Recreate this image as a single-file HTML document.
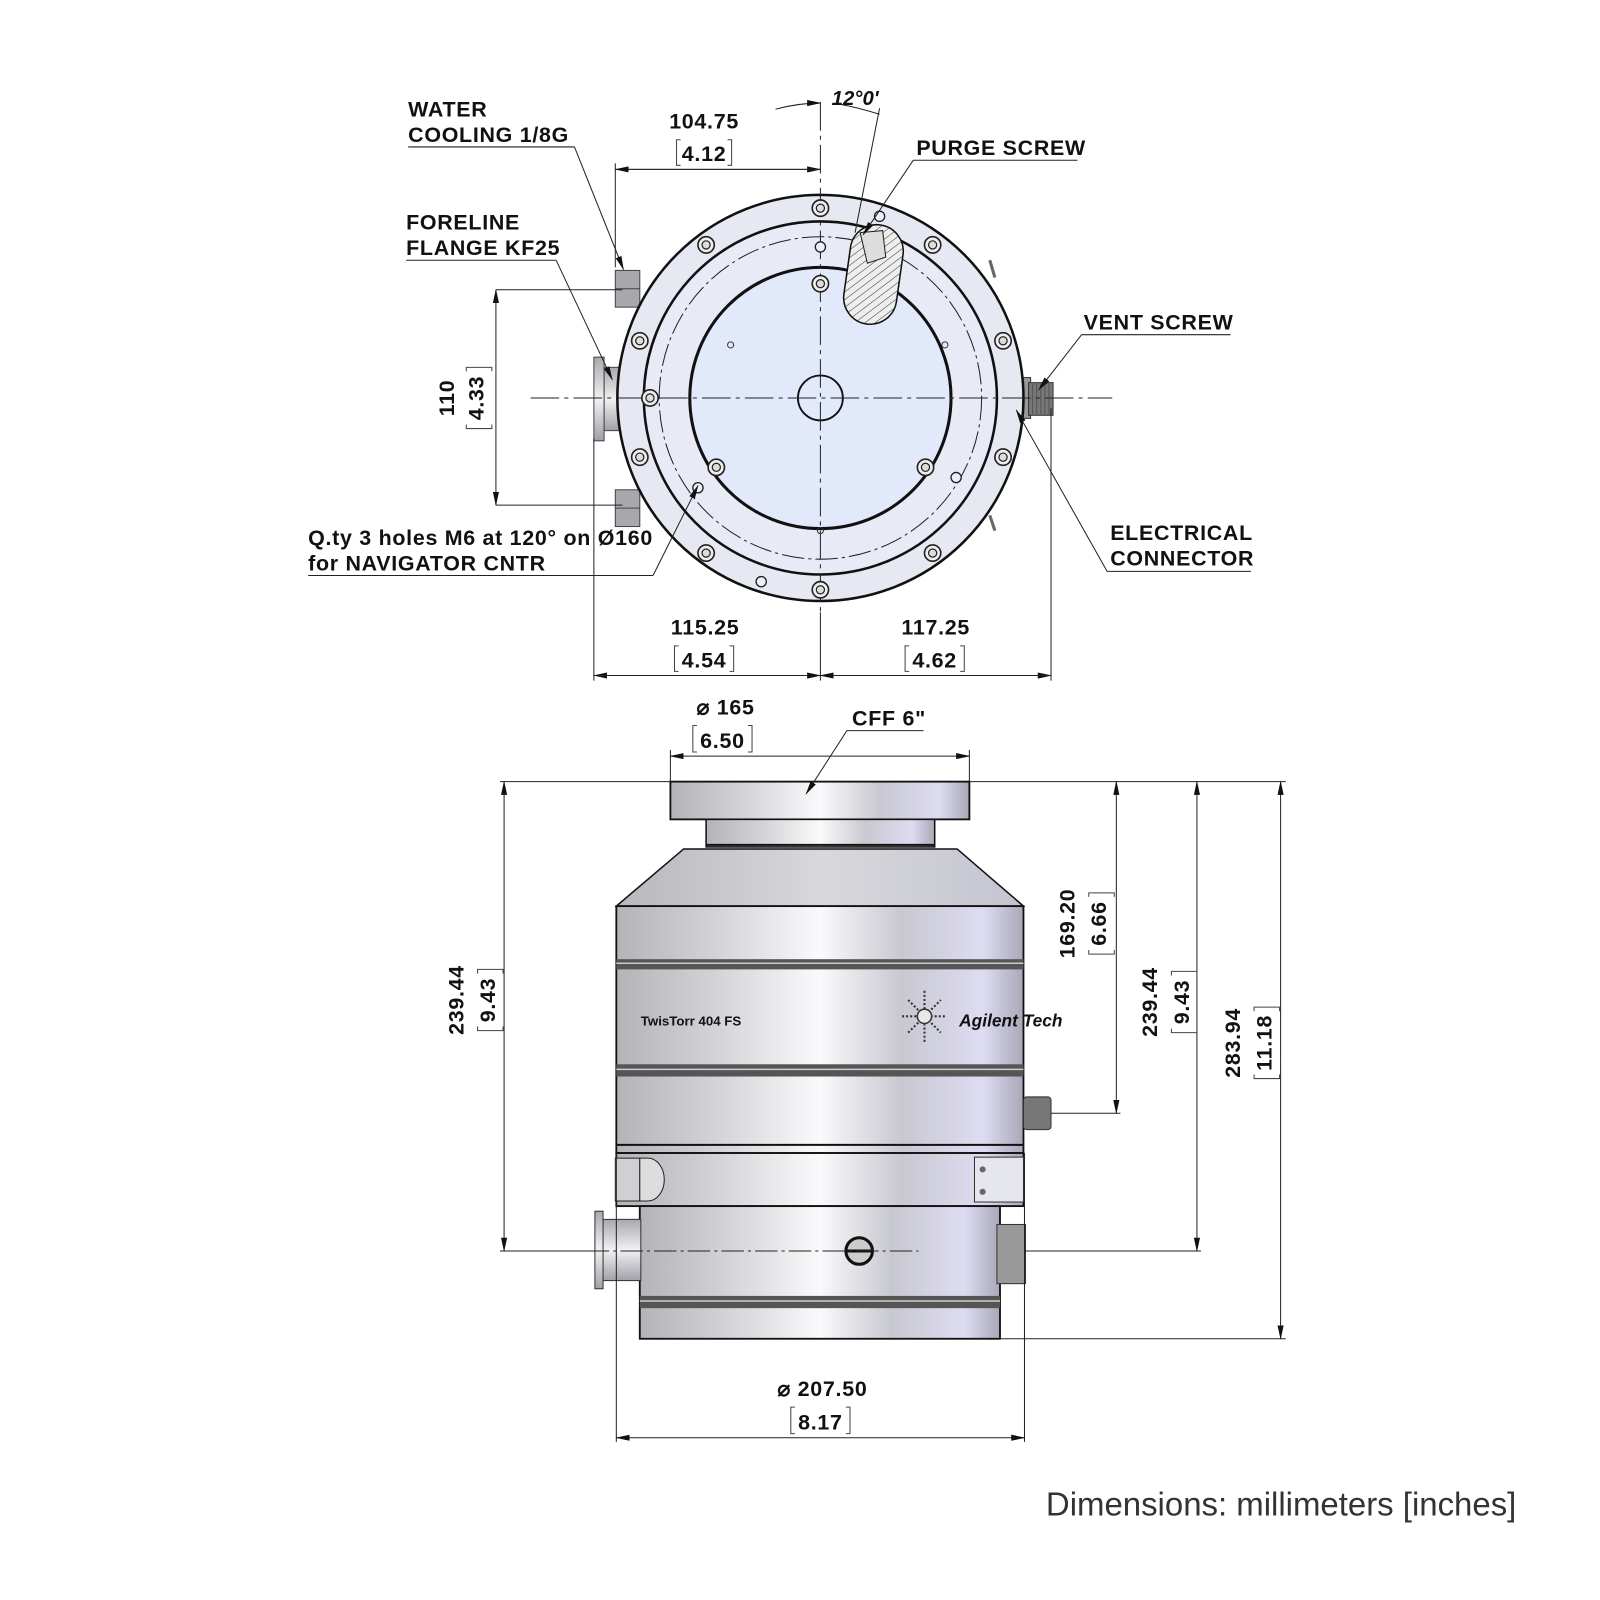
<!DOCTYPE html>
<html><head><meta charset="utf-8"><style>
html,body{margin:0;padding:0;background:#fff;width:1600px;height:1600px;overflow:hidden}
svg{display:block}
text{font-family:"Liberation Sans",sans-serif;fill:#111}
.b{font-weight:bold;font-size:21px;letter-spacing:0.7px}
.d{font-weight:bold;font-size:21px;letter-spacing:0.7px;text-anchor:middle}
</style></head><body>
<svg width="1600" height="1600" viewBox="0 0 1600 1600" xmlns="http://www.w3.org/2000/svg">
<defs>
<linearGradient id="m" x1="0" x2="1" y1="0" y2="0">
<stop offset="0" stop-color="#b4b4b8"/><stop offset="0.25" stop-color="#d4d4d8"/>
<stop offset="0.5" stop-color="#fafafc"/><stop offset="0.7" stop-color="#c8c8d0"/>
<stop offset="0.9" stop-color="#dedcf2"/><stop offset="1" stop-color="#a8a8b8"/></linearGradient>
<linearGradient id="mv" x1="0" x2="0" y1="0" y2="1">
<stop offset="0" stop-color="#a8a8ae"/><stop offset="0.5" stop-color="#f2f2f4"/><stop offset="1" stop-color="#a0a0a8"/></linearGradient>
<linearGradient id="cone" x1="0" x2="1"><stop offset="0" stop-color="#b8b8bc"/><stop offset="0.5" stop-color="#d8d8dc"/><stop offset="1" stop-color="#c4c4d0"/></linearGradient>
<pattern id="h" width="6" height="6" patternUnits="userSpaceOnUse" patternTransform="rotate(45)">
<rect width="6" height="6" fill="#eee"/><line x1="0" y1="0" x2="0" y2="6" stroke="#333" stroke-width="1"/></pattern>
<marker id="a" markerWidth="14" markerHeight="8" refX="13" refY="4" orient="auto" markerUnits="userSpaceOnUse">
<path d="M0,1 L14,4 L0,7 Z" fill="#111"/></marker>
<g id="bolt"><circle r="8" fill="#eee" stroke="#222" stroke-width="1.6"/><circle r="4" fill="#ddd" stroke="#222" stroke-width="1.2"/></g>
<g id="hole"><circle r="5" fill="#eef" stroke="#222" stroke-width="1.3"/></g>
</defs>
<g transform="scale(1.0204)">
<!-- ============ TOP VIEW ============ -->
<rect x="603" y="265" width="24" height="36" fill="#a8a8ac" stroke="#444"/>
<line x1="603" y1="283" x2="627" y2="283" stroke="#444"/>
<rect x="603" y="480" width="24" height="36" fill="#a8a8ac" stroke="#444"/>
<line x1="603" y1="498" x2="627" y2="498" stroke="#444"/>
<rect x="592" y="360" width="40" height="62" fill="url(#mv)" stroke="#444"/>
<rect x="582" y="350" width="10" height="82" fill="url(#mv)" stroke="#444"/>
<rect x="978" y="370" width="32" height="40" fill="#999" stroke="#333"/>
<rect x="1008" y="375" width="24" height="32" fill="#777" stroke="#333"/>
<path d="M1012 376 V406 M1016 376 V406 M1020 376 V406 M1024 376 V406 M1028 376 V406" stroke="#555"/>
<circle cx="804" cy="390" r="199" fill="#e6e8f2" stroke="#111" stroke-width="2.5"/>
<circle cx="804" cy="390" r="173" fill="#e8ebf6" stroke="#111" stroke-width="2.5"/>
<circle cx="804" cy="390" r="158" fill="none" stroke="#222" stroke-width="1" stroke-dasharray="22,4,3,4"/>
<circle cx="804" cy="390" r="128" fill="#e2e9fa" stroke="#111" stroke-width="3"/>
<circle cx="804" cy="390" r="22" fill="none" stroke="#111" stroke-width="1.8"/>
<line x1="520" y1="390" x2="1090" y2="390" stroke="#222" stroke-width="1" stroke-dasharray="28,5,4,5"/>
<line x1="804" y1="100" x2="804" y2="600" stroke="#222" stroke-width="1" stroke-dasharray="28,5,4,5"/>
<use href="#bolt" x="804" y="204"/><use href="#bolt" x="692" y="240"/><use href="#bolt" x="914" y="240"/>
<use href="#bolt" x="627" y="334"/><use href="#bolt" x="983" y="334"/><use href="#bolt" x="637" y="390"/>
<use href="#bolt" x="627" y="448"/><use href="#bolt" x="983" y="448"/><use href="#bolt" x="692" y="542"/>
<use href="#bolt" x="914" y="542"/><use href="#bolt" x="804" y="578"/>
<use href="#bolt" x="804" y="278"/><use href="#bolt" x="702" y="458"/><use href="#bolt" x="907" y="458"/>
<use href="#hole" x="862" y="212"/><use href="#hole" x="746" y="570"/><use href="#hole" x="937" y="468"/>
<use href="#hole" x="684" y="478"/><use href="#hole" x="804" y="242"/>
<circle cx="716" cy="338" r="3" fill="none" stroke="#333"/><circle cx="926" cy="338" r="3" fill="none" stroke="#333"/>
<circle cx="804" cy="520" r="3" fill="none" stroke="#333"/>
<rect x="830" y="220" width="52" height="98" rx="26" fill="url(#h)" stroke="#111" stroke-width="1.5" transform="rotate(8 856 269)" />
<path d="M843 228 L865 226 L868 252 L850 258 Z" fill="#ddd" stroke="#222"/>
<path d="M970 255 L975 272 M970 505 L975 520" stroke="#666" stroke-width="3"/>

<line x1="603" y1="160" x2="603" y2="262" stroke="#222"/>
<line x1="603" y1="166" x2="804" y2="166" stroke="#222" marker-end="url(#a)"/>
<line x1="804" y1="166" x2="603" y2="166" stroke="#222" marker-end="url(#a)"/>
<text class="d" x="690" y="126">104.75</text>
<path d="M667 137 H663 V162 H667 M713 137 H717 V162 H713" fill="none" stroke="#444"/>
<text class="d" x="690" y="158">4.12</text>
<path d="M760 107 Q782 101 804 101" fill="none" stroke="#222" marker-end="url(#a)"/>
<path d="M862 112 Q840 105 822 102" fill="none" stroke="#222"/>
<line x1="862" y1="106" x2="838" y2="228" stroke="#222"/>
<text x="815" y="103" style="font-weight:bold;font-style:italic;font-size:20px">12°0'</text>

<line x1="486" y1="284" x2="610" y2="284" stroke="#222"/>
<line x1="486" y1="495" x2="610" y2="495" stroke="#222"/>
<line x1="486" y1="390" x2="486" y2="284" stroke="#222" marker-end="url(#a)"/>
<line x1="486" y1="390" x2="486" y2="495" stroke="#222" marker-end="url(#a)"/>
<text class="d" transform="translate(445 390) rotate(-90)">110</text>
<g transform="translate(474 390) rotate(-90)"><path d="M-26 -17 H-30 V8 H-26 M26 -17 H30 V8 H26" fill="none" stroke="#444"/><text class="d" x="0" y="0">4.33</text></g>

<line x1="582" y1="430" x2="582" y2="667" stroke="#222"/>
<line x1="1030" y1="400" x2="1030" y2="667" stroke="#222"/>
<line x1="804" y1="600" x2="804" y2="667" stroke="#222"/>
<line x1="804" y1="662" x2="582" y2="662" stroke="#222" marker-end="url(#a)"/>
<line x1="582" y1="662" x2="804" y2="662" stroke="#222" marker-end="url(#a)"/>
<line x1="804" y1="662" x2="1030" y2="662" stroke="#222" marker-end="url(#a)"/>
<line x1="1030" y1="662" x2="804" y2="662" stroke="#222" marker-end="url(#a)"/>
<text class="d" x="691" y="622">115.25</text>
<path d="M665 633 H661 V658 H665 M715 633 H719 V658 H715" fill="none" stroke="#444"/>
<text class="d" x="690" y="654">4.54</text>
<text class="d" x="917" y="622">117.25</text>
<path d="M891 633 H887 V658 H891 M941 633 H945 V658 H941" fill="none" stroke="#444"/>
<text class="d" x="916" y="654">4.62</text>

<text class="b" x="400" y="114">WATER</text>
<text class="b" x="400" y="139">COOLING 1/8G</text>
<line x1="400" y1="144" x2="563" y2="144" stroke="#222"/>
<line x1="563" y1="144" x2="611" y2="264" stroke="#222" marker-end="url(#a)"/>
<text class="b" x="398" y="225">FORELINE</text>
<text class="b" x="398" y="250">FLANGE KF25</text>
<line x1="398" y1="255" x2="545" y2="255" stroke="#222"/>
<line x1="545" y1="255" x2="600" y2="372" stroke="#222" marker-end="url(#a)"/>
<text class="b" x="898" y="152">PURGE SCREW</text>
<line x1="895" y1="157" x2="1056" y2="157" stroke="#222"/>
<line x1="895" y1="157" x2="846" y2="230" stroke="#222" marker-end="url(#a)"/>
<text class="b" x="1062" y="323">VENT SCREW</text>
<line x1="1060" y1="328" x2="1206" y2="328" stroke="#222"/>
<line x1="1060" y1="328" x2="1018" y2="382" stroke="#222" marker-end="url(#a)"/>
<text class="b" x="1088" y="529">ELECTRICAL</text>
<text class="b" x="1088" y="554">CONNECTOR</text>
<line x1="1085" y1="560" x2="1226" y2="560" stroke="#222"/>
<line x1="1085" y1="560" x2="996" y2="402" stroke="#222" marker-end="url(#a)"/>
<text class="b" x="302" y="534">Q.ty 3 holes M6 at 120° on Ø160</text>
<text class="b" x="302" y="559">for NAVIGATOR CNTR</text>
<line x1="302" y1="564" x2="640" y2="564" stroke="#222"/>
<line x1="640" y1="564" x2="684" y2="476" stroke="#222" marker-end="url(#a)"/>

<!-- ============ SIDE VIEW ============ -->
<rect x="657" y="766" width="293" height="37" fill="url(#m)" stroke="#111" stroke-width="1.8"/>
<rect x="692" y="803" width="224" height="27" fill="url(#m)" stroke="#111" stroke-width="1.5"/>
<line x1="692" y1="828" x2="916" y2="828" stroke="#111" stroke-width="2"/>
<path d="M670 832 L938 832 L1003 888 L604 888 Z" fill="url(#cone)" stroke="#111" stroke-width="1.5"/>
<rect x="604" y="888" width="399" height="242" fill="url(#m)" stroke="#111" stroke-width="1.8"/>
<rect x="604" y="940" width="399" height="10" fill="#555"/>
<line x1="604" y1="944" x2="1003" y2="944" stroke="#ccc" stroke-width="1.5"/>
<rect x="604" y="1043" width="399" height="12" fill="#555"/>
<line x1="604" y1="1048" x2="1003" y2="1048" stroke="#ccc" stroke-width="1.5"/>
<line x1="604" y1="1122" x2="1003" y2="1122" stroke="#111" stroke-width="2"/>
<text x="628" y="1005" style="font-weight:bold;font-size:13px">TwisTorr 404 FS</text>
<text x="940" y="1006" style="font-weight:bold;font-style:italic;font-size:17px">Agilent Tech</text>
<g transform="translate(906 996)" stroke="#333" stroke-width="2" stroke-dasharray="2,2">
<line x1="-22" y1="0" x2="22" y2="0"/><line x1="0" y1="-25" x2="0" y2="25"/>
<line x1="-16" y1="-16" x2="16" y2="16"/><line x1="-16" y1="16" x2="16" y2="-16"/></g>
<circle cx="906" cy="996" r="7" fill="#e8e8ec" stroke="#333" stroke-width="1.5"/>
<rect x="604" y="1130" width="399" height="52" fill="url(#m)" stroke="#111" stroke-width="1.8"/>
<rect x="603" y="1135" width="24" height="42" fill="#d0d0d4" stroke="#222"/>
<path d="M627 1135 H635 A16 21 0 0 1 635 1177 H627 Z" fill="#ddd" stroke="#222"/>
<rect x="955" y="1134" width="48" height="44" fill="#e6e6ee" stroke="#333"/>
<circle cx="963" cy="1146" r="3" fill="#666"/><circle cx="963" cy="1168" r="3" fill="#666"/>
<rect x="627" y="1182" width="353" height="130" fill="url(#m)" stroke="#111" stroke-width="1.8"/>
<rect x="627" y="1270" width="353" height="12" fill="#555"/>
<line x1="627" y1="1275" x2="980" y2="1275" stroke="#ccc" stroke-width="1.5"/>
<rect x="590" y="1195" width="38" height="60" fill="url(#mv)" stroke="#333"/>
<rect x="583" y="1187" width="8" height="76" fill="url(#mv)" stroke="#333"/>
<rect x="977" y="1200" width="28" height="58" fill="#999" stroke="#333"/>
<rect x="1003" y="1075" width="27" height="32" rx="3" fill="#777" stroke="#333"/>
<circle cx="842" cy="1226" r="13" fill="#ccc" stroke="#111" stroke-width="3"/>
<line x1="830" y1="1226" x2="854" y2="1226" stroke="#111" stroke-width="3"/>
<line x1="575" y1="1226" x2="900" y2="1226" stroke="#222" stroke-dasharray="22,4,3,4"/>
<line x1="1005" y1="1226" x2="1177" y2="1226" stroke="#222"/>
<line x1="1030" y1="1091" x2="1098" y2="1091" stroke="#222"/>

<line x1="657" y1="735" x2="657" y2="766" stroke="#222"/>
<line x1="950" y1="735" x2="950" y2="766" stroke="#222"/>
<line x1="804" y1="741" x2="657" y2="741" stroke="#222" marker-end="url(#a)"/>
<line x1="804" y1="741" x2="950" y2="741" stroke="#222" marker-end="url(#a)"/>
<text class="d" x="711" y="700">⌀ 165</text>
<path d="M683 711 H679 V737 H683 M733 711 H737 V737 H733" fill="none" stroke="#444"/>
<text class="d" x="708" y="733">6.50</text>
<text class="b" x="835" y="711">CFF 6"</text>
<line x1="830" y1="716" x2="905" y2="716" stroke="#222"/>
<line x1="830" y1="716" x2="790" y2="778" stroke="#222" marker-end="url(#a)"/>

<line x1="490" y1="766" x2="657" y2="766" stroke="#222"/>
<line x1="950" y1="766" x2="1260" y2="766" stroke="#222"/>
<line x1="490" y1="1226" x2="590" y2="1226" stroke="#222"/>
<line x1="494" y1="1000" x2="494" y2="766" stroke="#222" marker-end="url(#a)"/>
<line x1="494" y1="1000" x2="494" y2="1226" stroke="#222" marker-end="url(#a)"/>
<text class="d" transform="translate(454 980) rotate(-90)">239.44</text>
<g transform="translate(485 980) rotate(-90)"><path d="M-26 -17 H-30 V8 H-26 M26 -17 H30 V8 H26" fill="none" stroke="#444"/><text class="d" x="0" y="0">9.43</text></g>

<line x1="1094" y1="930" x2="1094" y2="766" stroke="#222" marker-end="url(#a)"/>
<line x1="1094" y1="930" x2="1094" y2="1091" stroke="#222" marker-end="url(#a)"/>
<text class="d" transform="translate(1053 905) rotate(-90)">169.20</text>
<g transform="translate(1084 905) rotate(-90)"><path d="M-26 -17 H-30 V8 H-26 M26 -17 H30 V8 H26" fill="none" stroke="#444"/><text class="d" x="0" y="0">6.66</text></g>

<line x1="1173" y1="1000" x2="1173" y2="766" stroke="#222" marker-end="url(#a)"/>
<line x1="1173" y1="1000" x2="1173" y2="1226" stroke="#222" marker-end="url(#a)"/>
<text class="d" transform="translate(1134 982) rotate(-90)">239.44</text>
<g transform="translate(1165 982) rotate(-90)"><path d="M-26 -17 H-30 V8 H-26 M26 -17 H30 V8 H26" fill="none" stroke="#444"/><text class="d" x="0" y="0">9.43</text></g>

<line x1="980" y1="1312" x2="1260" y2="1312" stroke="#222"/>
<line x1="1255" y1="1040" x2="1255" y2="766" stroke="#222" marker-end="url(#a)"/>
<line x1="1255" y1="1040" x2="1255" y2="1312" stroke="#222" marker-end="url(#a)"/>
<text class="d" transform="translate(1215 1022) rotate(-90)">283.94</text>
<g transform="translate(1246 1022) rotate(-90)"><path d="M-31 -17 H-35 V8 H-31 M31 -17 H35 V8 H31" fill="none" stroke="#444"/><text class="d" x="0" y="0">11.18</text></g>

<line x1="604" y1="1130" x2="604" y2="1413" stroke="#222"/>
<line x1="1004" y1="1130" x2="1004" y2="1413" stroke="#222"/>
<line x1="804" y1="1409" x2="604" y2="1409" stroke="#222" marker-end="url(#a)"/>
<line x1="804" y1="1409" x2="1004" y2="1409" stroke="#222" marker-end="url(#a)"/>
<text class="d" x="806" y="1368">⌀ 207.50</text>
<path d="M779 1379 H775 V1405 H779 M829 1379 H833 V1405 H829" fill="none" stroke="#444"/>
<text class="d" x="804" y="1401">8.17</text>

<text x="1486" y="1485" style="font-size:32.3px;fill:#333;text-anchor:end">Dimensions: millimeters [inches]</text>
</g>
</svg>
</body></html>
